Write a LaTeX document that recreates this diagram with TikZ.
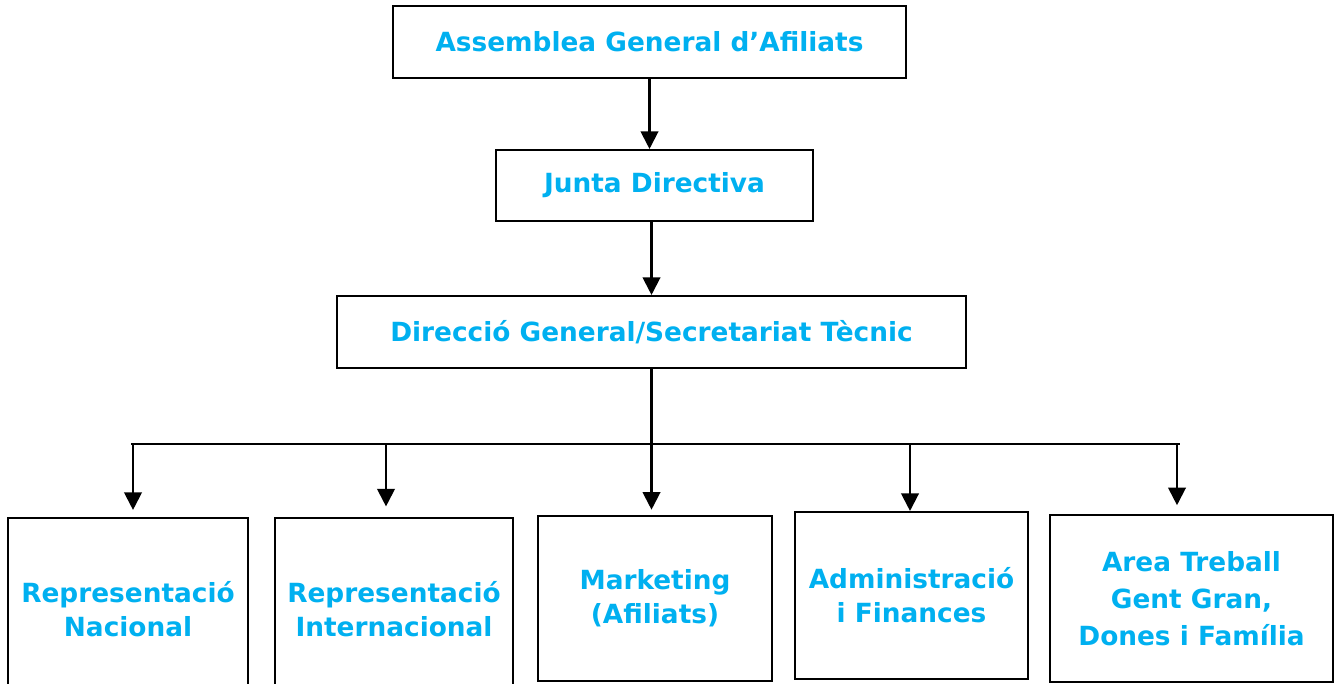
\documentclass[tikz,border=0pt]{standalone}
\usepackage{fontspec}
\setmainfont{DejaVu Sans}
\usetikzlibrary{arrows.meta}
\definecolor{orgblue}{HTML}{00B0F0}
\tikzset{
  unit/.style={draw, line width=1.2pt, fill=white, text=orgblue, align=center,
    inner sep=0pt, font=\bfseries\fontsize{15}{19.5}\selectfont},
  link/.style={line width=1.2pt},
  arr/.style={link, -{Triangle[width=10pt, length=10pt]}},
}
\begin{document}
\begin{tikzpicture}[x=0.02cm, y=-0.02cm]
\useasboundingbox (0,0) rectangle (1337,683);
\clip (0,0) rectangle (1337,683);
% governing bodies
\node[unit, minimum width=10.26cm, minimum height=1.44cm] (assem) at (649.5,42) {Assemblea General d’Afiliats};
\node[unit, minimum width=6.34cm, minimum height=1.42cm] (junta) at (654.5,185.5) {Junta Directiva};
\node[unit, minimum width=12.58cm, minimum height=1.44cm] (dir) at (651.5,332) {Direcció General/Secretariat Tècnic};
% areas
\node[unit, minimum width=4.8cm, minimum height=3.64cm] (rn) at (128,609) {Representació\\Nacional};
\node[unit, minimum width=4.76cm, minimum height=3.64cm] (ri) at (394,609) {Representació\\Internacional};
\node[unit, minimum width=4.68cm, minimum height=3.3cm] (mkt) at (655,598.5) {Marketing\\(Afiliats)};
\node[unit, minimum width=4.66cm, minimum height=3.34cm] (af) at (911.5,595.5) {Administració\\i Finances};
\node[unit, minimum width=5.66cm, minimum height=3.34cm] (ag) at (1191.5,598.5) {Area Treball\\[1.5pt]Gent Gran,\\[1.5pt]Dones i Família};
% connectors
\draw[arr] (assem.south) -- (assem.south |- junta.north);
\draw[arr] (dir.north |- junta.south) -- (dir.north);
\draw[arr, shorten >=3pt] (dir.south) -- (dir.south |- mkt.north);
\coordinate (busL) at (131,444);
\coordinate (busR) at (1180,444);
\draw[link] (busL) -- (busR);
\coordinate (d1) at (133,444);
\coordinate (d2) at (386,444);
\coordinate (d4) at (910,444);
\coordinate (d5) at (1177,444);
\draw[arr, shorten >=4pt] (d1) -- (d1 |- rn.north);
\draw[arr, shorten >=6pt] (d2) -- (d2 |- ri.north);
\draw[arr] (d4) -- (d4 |- af.north);
\draw[arr, shorten >=5pt] (d5) -- (d5 |- ag.north);
\end{tikzpicture}
\end{document}
